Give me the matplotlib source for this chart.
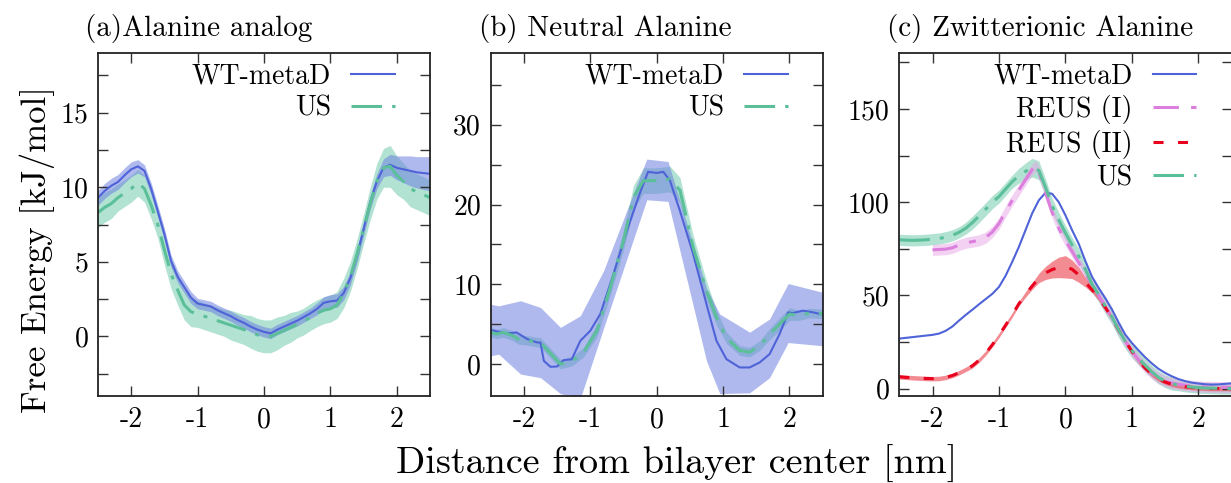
import numpy as np
import matplotlib
matplotlib.use("Agg")
import matplotlib.pyplot as plt
from matplotlib.ticker import FixedLocator

plt.rcParams['font.family'] = ['cmr10', 'DejaVu Serif']
plt.rcParams['axes.unicode_minus'] = False
plt.rcParams['mathtext.fontset'] = 'cm'

# ---------------- Panel (a): Alanine analog ----------------
a_x = [-2.5, -2.4, -2.3, -2.2, -2.1, -2.0, -1.9, -1.8, -1.7, -1.6, -1.5, -1.4, -1.3,
       -1.2, -1.1, -1.0, -0.9, -0.8, -0.7, -0.6, -0.5, -0.4, -0.3, -0.2, -0.1, 0.0,
       0.1, 0.2, 0.3, 0.4, 0.5, 0.6, 0.7, 0.8, 0.9, 1.0, 1.1, 1.2, 1.3, 1.4, 1.5,
       1.6, 1.7, 1.8, 1.9, 2.0, 2.1, 2.2, 2.3, 2.4, 2.5]
a_wt = [9.3, 9.75, 10.1, 10.35, 10.8, 11.2, 11.4, 11.1, 9.9, 8.4, 6.85, 5.05, 4.0,
        3.3, 2.6, 2.2, 2.1, 2.0, 1.75, 1.55, 1.35, 1.1, 0.9, 0.65, 0.45, 0.3,
        0.2, 0.45, 0.65, 0.85, 1.05, 1.3, 1.55, 1.85, 2.25, 2.35, 2.4, 2.9, 3.9, 5.4, 7.2,
        9.0, 10.4, 11.3, 11.5, 11.3, 11.2, 11.1, 11.0, 10.95, 10.9]
a_wt_err = [0.5, 0.5, 0.5, 0.5, 0.5, 0.5, 0.45, 0.4, 0.4, 0.4, 0.4, 0.4, 0.4,
            0.4, 0.4, 0.35, 0.35, 0.35, 0.35, 0.35, 0.35, 0.35, 0.35, 0.35, 0.35, 0.35,
            0.35, 0.35, 0.35, 0.35, 0.35, 0.35, 0.35, 0.4, 0.4, 0.45, 0.45, 0.45, 0.45, 0.45, 0.45,
            0.45, 0.5, 0.6, 0.7, 0.8, 0.9, 1.0, 1.05, 1.1, 1.15]
a_us = [8.3, 8.65, 8.9, 9.3, 9.6, 9.9, 10.3, 9.9, 8.8, 7.5, 5.8, 4.2, 3.1,
        2.1, 1.65, 1.5, 1.35, 1.2, 1.05, 0.9, 0.75, 0.6, 0.45, 0.3, 0.1, 0.0,
        0.0, 0.2, 0.4, 0.6, 0.8, 1.0, 1.3, 1.55, 1.75, 1.85, 2.1, 2.9, 4.0, 5.5, 7.2,
        8.9, 10.4, 11.3, 11.4, 10.8, 10.4, 9.9, 9.7, 9.5, 9.3]
a_us_err = [1.0, 1.0, 1.0, 0.9, 0.9, 0.9, 0.9, 0.9, 0.9, 0.9, 1.0, 1.0, 1.0,
            1.0, 1.0, 0.9, 0.9, 0.9, 0.9, 0.9, 1.0, 1.0, 1.0, 1.1, 1.1, 1.1,
            1.1, 1.1, 1.0, 1.0, 0.9, 0.9, 0.9, 0.9, 0.9, 0.9, 0.9, 1.0, 1.0, 1.0, 1.0,
            1.1, 1.2, 1.3, 1.4, 1.3, 1.2, 1.2, 1.2, 1.2, 1.2]

# ---------------- Panel (b): Neutral Alanine ----------------
b_wt_x = [-2.5, -2.26, -2.11, -1.95, -1.80, -1.75, -1.70, -1.60, -1.50, -1.40, -1.28,
          -1.15, -1.00, -0.85, -0.65, -0.45, -0.25, -0.13, 0.0, 0.1, 0.2, 0.35, 0.55,
          0.75, 0.9, 1.05, 1.25, 1.40, 1.55, 1.70, 1.85, 1.98, 2.05, 2.2, 2.35, 2.5]
b_wt = [4.27, 3.84, 3.97, 3.13, 2.71, 2.7, 0.41, -0.34, -0.3, 0.5, 0.6,
        2.92, 4.18, 6.27, 11.3, 16.7, 21.5, 24.1, 23.96, 24.1, 23.0, 19.2, 13.8,
        7.5, 2.92, 0.62, -0.42, -0.42, 0.2, 1.25, 3.76, 6.48, 6.4, 6.7, 6.5, 6.2]
b_band_x = [-2.5, -2.38, -2.05, -1.75, -1.45, -1.15, -0.8, -0.15, 0.17, 0.75, 0.95,
            1.4, 1.7, 1.98, 2.5]
b_band_lo = [1.04, 1.25, -1.25, -1.7, -3.7, -4.3, 4.5, 20.6, 20.4, 0.41, -3.7,
             -3.6, -1.7, 2.7, 2.3]
b_band_hi = [7.5, 7.3, 7.94, 7.1, 4.6, 6.06, 11.7, 25.7, 25.4, 9.5, 6.27,
             4.0, 5.65, 10.1, 9.0]
b_us_x = [-2.5, -2.41, -2.31, -2.18, -2.08, -1.98, -1.75, -1.55, -1.45, -1.27, -1.1,
          -0.9, -0.7, -0.5, -0.35, -0.2, 0.0, 0.2, 0.35, 0.55, 0.75, 0.9, 1.05, 1.25,
          1.4, 1.55, 1.7, 1.85, 2.0, 2.15, 2.3, 2.5]
b_us = [4.0, 3.76, 3.97, 3.6, 3.1, 3.0, 2.7, 0.9, 0.0, 0.4, 1.5,
        4.2, 9.6, 15.5, 20.9, 23.0, 23.0, 23.2, 21.8, 14.6, 9.2, 5.85, 3.3, 1.7,
        1.5, 2.3, 3.76, 5.0, 6.27, 6.1, 6.4, 6.3]
b_us_err = [0.6, 0.6, 0.6, 0.6, 0.6, 0.6, 0.6, 0.6, 0.6, 0.6, 0.6,
            0.8, 1.0, 1.2, 1.5, 1.6, 1.6, 1.6, 1.6, 1.5, 1.2, 0.9, 0.7, 0.6,
            0.6, 0.6, 0.7, 0.8, 0.8, 0.6, 0.6, 0.6]

# ---------------- Panel (c): Zwitterionic Alanine ----------------
c_x = [-2.5, -2.4, -2.3, -2.2, -2.1, -2.0, -1.9, -1.8, -1.7, -1.6, -1.5, -1.4, -1.3,
       -1.2, -1.1, -1.0, -0.9, -0.8, -0.7, -0.6, -0.5, -0.4, -0.3, -0.2, -0.1, 0.0,
       0.1, 0.2, 0.3, 0.4, 0.5, 0.6, 0.7, 0.8, 0.9, 1.0, 1.1, 1.2, 1.3, 1.4, 1.5,
       1.6, 1.7, 1.8, 1.9, 2.0, 2.1, 2.2, 2.3, 2.4, 2.5]
c_wt = [26.8, 27.2, 27.6, 28.0, 28.4, 28.8, 29.5, 31.0, 33.3, 36.5, 39.5, 42.3, 45.2,
        48.0, 50.8, 54.5, 60.5, 68.0, 76.0, 85.0, 94.0, 101.0, 105.0, 104.5, 100.0, 93.0,
        85.0, 77.7, 68.5, 60.0, 54.0, 48.5, 42.5, 35.5, 29.0, 24.5, 20.5, 16.8, 13.5, 10.6, 8.4,
        6.6, 5.1, 4.0, 3.2, 2.7, 2.3, 2.1, 2.2, 2.5, 2.8]
c_us = [79.8, 79.6, 79.5, 79.6, 79.8, 80.1, 80.5, 81.2, 82.2, 83.8, 86.0, 89.0, 92.5,
        96.2, 100.0, 103.0, 107.0, 111.0, 114.2, 116.5, 118.5, 117.0, 108.0, 98.0, 90.5, 83.5,
        77.0, 71.0, 64.0, 56.0, 50.5, 44.2, 38.5, 31.5, 25.5, 20.5, 16.3, 12.5, 9.0, 6.0, 4.0,
        2.7, 1.8, 1.2, 0.8, 0.5, 0.3, 0.2, 0.1, 0.0, 0.0]
c_us_err = [3.0, 3.0, 3.0, 3.0, 3.0, 3.0, 3.0, 3.0, 3.0, 3.0, 3.2, 3.5, 3.5,
            3.5, 3.5, 3.5, 3.5, 3.5, 4.0, 4.5, 5.0, 5.0, 4.5, 4.0, 4.0, 4.0,
            4.0, 4.0, 4.0, 4.0, 4.0, 4.0, 4.0, 4.0, 4.0, 4.0, 3.5, 3.5, 3.5, 3.5, 3.5,
            3.5, 3.0, 3.0, 3.0, 3.0, 3.0, 3.0, 3.0, 3.0, 3.0]
c_reus1_x = [-2.0, -1.9, -1.8, -1.7, -1.6, -1.5, -1.4, -1.3, -1.2, -1.1, -1.0, -0.9,
             -0.8, -0.7, -0.6, -0.5, -0.45, -0.4, -0.3, -0.2, -0.1, 0.0, 0.1, 0.2, 0.3,
             0.4, 0.5, 0.6, 0.7, 0.8, 0.9, 1.0, 1.1, 1.2, 1.3, 1.4, 1.5, 1.6, 1.7, 1.8,
             1.9, 2.0, 2.1, 2.2, 2.3, 2.4, 2.5]
c_reus1 = [74.4, 74.6, 74.8, 75.5, 77.0, 78.2, 78.8, 79.5, 81.0, 84.0, 88.5, 95.0,
           101.0, 106.5, 112.0, 117.5, 119.5, 116.5, 105.0, 94.5, 86.0, 79.5, 73.5, 67.5, 62.0,
           55.5, 50.0, 44.0, 38.0, 31.5, 25.5, 20.0, 15.5, 11.5, 8.3, 5.8, 4.0, 3.0, 2.3, 1.8,
           1.4, 1.1, 0.9, 0.8, 0.7, 0.7, 0.6]
c_reus1_err = [3.0] * 47
c_reus2 = [6.3, 6.0, 5.8, 5.6, 5.4, 5.3, 5.4, 6.0, 7.0, 8.5, 10.3, 12.2, 15.2,
           19.0, 23.5, 28.5, 34.0, 39.5, 45.5, 50.5, 55.0, 59.3, 62.0, 63.8, 65.0, 65.3,
           64.0, 61.0, 57.0, 53.0, 48.5, 43.5, 38.0, 31.5, 25.5, 20.0, 15.0, 11.0, 7.8, 5.2, 3.5,
           2.3, 1.5, 1.0, 0.6, 0.3, 0.1, 0.0, 0.0, 0.0, 0.0]
c_reus2_err = [1.2, 1.2, 1.2, 1.2, 1.2, 1.2, 1.2, 1.2, 1.2, 1.2, 1.2, 1.2, 1.2,
               1.2, 1.2, 1.2, 1.2, 1.2, 1.2, 1.5, 1.8, 2.5, 3.5, 4.5, 5.5, 6.0,
               5.0, 4.0, 2.5, 1.5, 1.2, 1.2, 1.2, 1.2, 1.2, 1.2, 1.2, 1.2, 1.2, 1.2, 1.2,
               1.2, 1.2, 1.2, 1.2, 1.2, 1.2, 1.2, 1.2, 1.2, 1.2]

titles = ["(a)Alanine analog", "(b) Neutral Alanine", "(c) Zwitterionic Alanine"]
xticks = [-2, -1, 0, 1, 2]
xticklabels = ["-2", "-1", "0", "1", "2"]

# ---------------- styling ----------------
BLUE = "#4f63d8"
BLUE_FILL = "#6d80e0"
GREEN = "#5bbf99"
GREEN_FILL = "#66c6a6"
PINK = "#dc7fdc"
PINK_FILL = "#e7a4e7"
RED = "#e8001c"
RED_FILL = "#ee5a66"

W, H = 1231, 483
fig = plt.figure(figsize=(W / 100, H / 100), dpi=100)

def px_axes(left, right, top=53, bottom=396):
    return fig.add_axes([left / W, 1 - bottom / H, (right - left) / W, (bottom - top) / H])

axA = px_axes(98, 430)
axB = px_axes(490.7, 822.7)
axC = px_axes(899.3, 1231.5)

wt_style = dict(color=BLUE, lw=1.5)
us_style = dict(color=GREEN, lw=2.2, dashes=(10, 3.3, 1.3, 3.3))
reus1_style = dict(color=PINK, lw=2.2, dashes=(8.3, 4, 2.3, 4))
reus2_style = dict(color=RED, lw=2.2, dashes=(3.3, 4.7))

def err_band(ax, x, y, e, color, alpha):
    y = np.asarray(y); e = np.asarray(e)
    ax.fill_between(x, y - e, y + e, color=color, alpha=alpha, lw=0)

# (a)
err_band(axA, a_x, a_us, a_us_err, GREEN_FILL, 0.5)
err_band(axA, a_x, a_wt, a_wt_err, BLUE_FILL, 0.55)
axA.plot(a_x, a_wt, label="WT-metaD", **wt_style)
axA.plot(a_x, a_us, label="US", **us_style)

# (b)
err_band(axB, b_us_x, b_us, b_us_err, GREEN_FILL, 0.5)
axB.fill_between(b_band_x, b_band_lo, b_band_hi, color=BLUE_FILL, alpha=0.55, lw=0)
axB.plot(b_wt_x, b_wt, label="WT-metaD", **wt_style)
axB.plot(b_us_x, b_us, label="US", **us_style)

# (c)
err_band(axC, c_x, c_us, c_us_err, GREEN_FILL, 0.5)
err_band(axC, c_reus1_x, c_reus1, c_reus1_err, PINK_FILL, 0.5)
err_band(axC, c_x, c_reus2, c_reus2_err, RED_FILL, 0.7)
axC.plot(c_x, c_wt, label="WT-metaD", **wt_style)
axC.plot(c_reus1_x, c_reus1, label="REUS (I)", **reus1_style)
axC.plot(c_x, c_reus2, label="REUS (II)", **reus2_style)
axC.plot(c_x, c_us, label="US", **us_style)

ylims = [(-4, 19), (-4, 39), (-4, 180)]
ymajor = [[0, 5, 10, 15], [0, 10, 20, 30], [0, 50, 100, 150]]
yminor = [[-2.5, 2.5, 7.5, 12.5, 17.5], [5, 15, 25, 35], [25, 75, 125, 175]]

for ax, title, yl, ymj, ymn, tx in zip([axA, axB, axC], titles, ylims, ymajor, yminor,
                                      [85, 479, 887]):
    ax.set_xlim(-2.5, 2.5)
    ax.set_ylim(*yl)
    ax.set_xticks(xticks)
    ax.set_xticklabels(xticklabels)
    ax.yaxis.set_major_locator(FixedLocator(ymj))
    ax.set_yticklabels([str(v) for v in ymj])
    ax.yaxis.set_minor_locator(FixedLocator(ymn))
    ax.tick_params(which='both', direction='in', top=True, right=True, length=7,
                   width=1.0, color='#333333', labelsize=20, pad=7)
    ax.tick_params(axis='x', pad=8)
    for s in ax.spines.values():
        s.set_linewidth(1.3)
        s.set_color('#222222')
    fig.text(tx / W, 1 - 36 / H, title, fontsize=21, ha='left', va='baseline')
    leg = ax.legend(loc='upper right', markerfirst=False, frameon=False, fontsize=20,
                    handlelength=1.58, handletextpad=0.72, labelspacing=0.21,
                    borderpad=0.0, borderaxespad=0.0,
                    bbox_to_anchor=(1 - 35 / 332, 1 - 10 / 343))

fig.text(37 / W, 1 - 250 / H, "Free Energy [kJ/mol]", rotation=90, fontsize=25,
         ha='center', va='center')
fig.text(677 / W, 1 - 474 / H, "Distance from bilayer center [nm]", fontsize=27.5,
         ha='center', va='baseline')

fig.savefig("out.png", dpi=100)
